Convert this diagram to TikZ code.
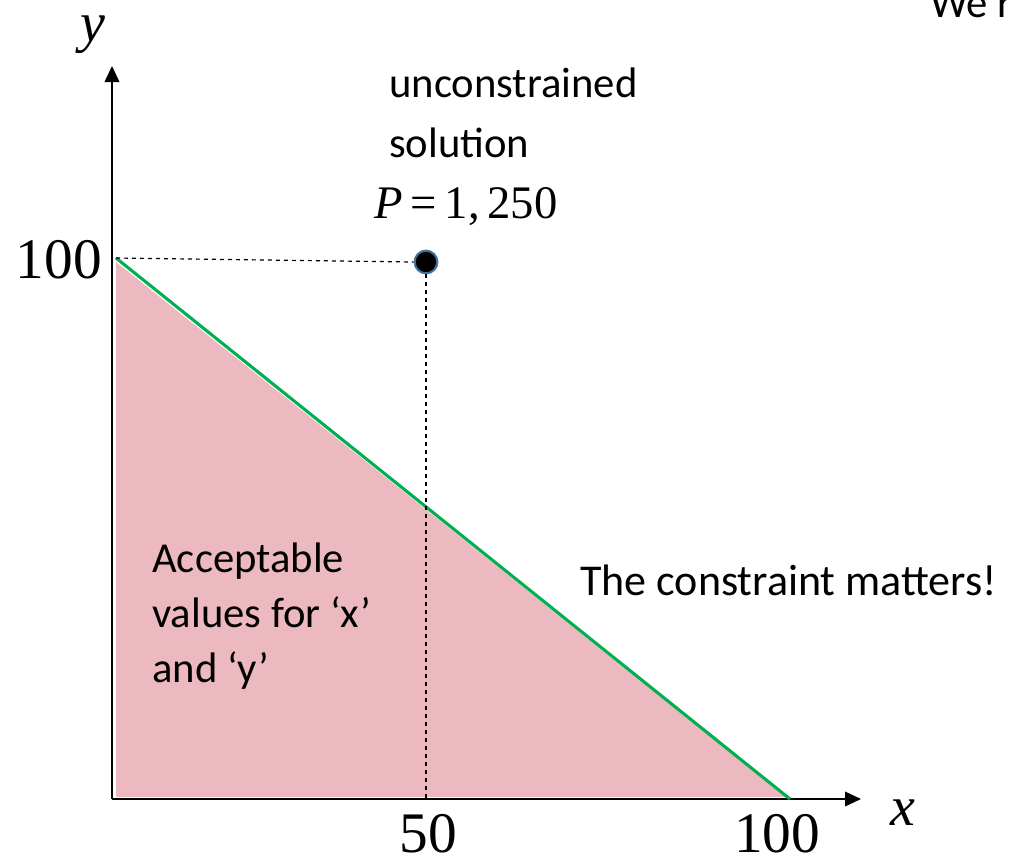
\documentclass[tikz,border=0pt]{standalone}
\usepackage{fontspec}
\setmainfont{Liberation Serif}
\newfontfamily\bodyfont{Carlito}
\usetikzlibrary{arrows.meta}
\definecolor{feasible}{RGB}{236,185,192}
\definecolor{budget}{RGB}{0,176,80}
\definecolor{rimblue}{RGB}{65,113,156}

\begin{document}
\begin{tikzpicture}[x=0.75pt,y=-0.75pt,line join=round,>={Triangle[length=12pt,width=11pt]}]
			\tikzset{every node/.style={inner sep=0pt},
				numlab/.style={font=\fontsize{43}{43}\selectfont,text depth=0pt},
				txtlab/.style={font=\bodyfont\fontsize{32}{45}\selectfont,align=left}}
			\useasboundingbox (0,0) rectangle (1009,858);
			% corner points
			\coordinate (O) at (112,799);
			\coordinate (ytop) at (112,66);
			\coordinate (xend) at (861,799);
			\coordinate (A) at (116,258);
			\coordinate (B) at (790,799);
			\coordinate (foot) at (426,799);
			% region under the line
			\fill[feasible] (116,262)--(116,797)--(786,797)--cycle;
			\draw[->,line width=1.1pt] (O)--(ytop);
			\draw[->,line width=1.1pt] (O)--(xend);
			\draw[budget,line width=2.3pt] (A)--(B);
			\node[circle,fill=black,draw=rimblue,line width=1.6pt,minimum size=17pt] (P) at (426,262) {};
			\draw[dashed,line width=0.9pt] (A)--(P.west);
			\draw[dashed,line width=1pt] (P.south)--(foot);
			% labels
			\node[font=\fontsize{42}{42}\selectfont\itshape] (ylab) at (93,35) {y};
			\node[font=\fontsize{42}{42}\selectfont\itshape] (xlab) at (903,813) {x};
			\node[numlab,anchor=base] (ytick) at (59,278) {100};
			\node[numlab,anchor=base] (xtick1) at (428,852) {50};
			\node[numlab,anchor=base] (xtick2) at (777,852) {100};
			\node[font=\fontsize{35}{35}\selectfont,anchor=base] (Pval) at (466,218) {\textit{P}\,=\,1,\,250};
			\node[txtlab,anchor=base west] (uncon) at (389,157) {unconstrained\\solution};
			\node[txtlab,anchor=base west,font=\bodyfont\fontsize{33}{45}\selectfont] (matters) at (580,595) {The constraint matters!};
			\node[txtlab,anchor=base west,font=\bodyfont\fontsize{32}{41}\selectfont] (accept) at (152,682) {Acceptable\\values for ‘x’\\and ‘y’};
			\node[txtlab,anchor=base west] (cut) at (930,17) {We r};
		\end{tikzpicture}
\end{document}
